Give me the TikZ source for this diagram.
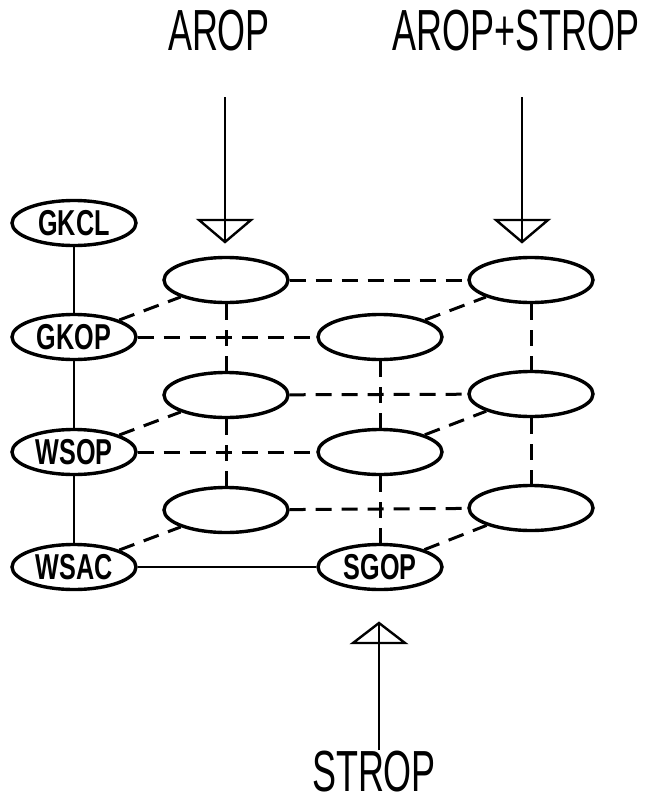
\documentclass[tikz,border=0pt]{standalone}
\usepackage{fontspec}
\setmainfont{Liberation Sans}
\newfontfamily\titlefont{Liberation Sans}[FakeStretch=0.62]
\newfontfamily\labfont{Liberation Sans Bold}[FakeStretch=0.7]
\usetikzlibrary{shapes.geometric}
\begin{document}
\begin{tikzpicture}[x=1pt,y=-1pt,
  ell/.style={ellipse, draw, line width=3.4pt, minimum width=124pt, minimum height=45pt, inner sep=0pt},
  lab/.style={font=\labfont\fontsize{36}{36}\selectfont},
  ttl/.style={font=\titlefont\fontsize{58}{58}\selectfont, inner sep=0pt},
  conn/.style={line width=2.4pt},
  dconn/.style={line width=3pt, dash pattern=on 16pt off 10pt},
  arr/.style={line width=2.4pt, line join=miter},
]
\useasboundingbox (0,0) rectangle (665,803);

% titles
\node[ttl] (tA) at (219,31) {AROP};
\node[ttl] (tAS) at (516,31) {AROP+STROP};
\node[ttl] (tS) at (374,772) {STROP};

% left column
\node[ell,lab] (GKCL) at (74,223) {GKCL};
\node[ell,lab] (GKOP) at (74,337) {GKOP};
\node[ell,lab] (WSOP) at (74,452) {WSOP};
\node[ell,lab] (WSAC) at (74,567) {WSAC};

% back column
\node[ell] (B1) at (226,280) {};
\node[ell] (B2) at (226,395) {};
\node[ell] (B3) at (226,510) {};

% middle column
\node[ell] (M1) at (380,337) {};
\node[ell] (M2) at (380,452) {};
\node[ell,lab] (SGOP) at (380,567) {SGOP};

% right column
\node[ell] (R1) at (531,280) {};
\node[ell] (R2) at (531,394) {};
\node[ell] (R3) at (531,508) {};

% solid connectors
\draw[conn] (GKCL) -- (GKOP) -- (WSOP) -- (WSAC);
\draw[conn] (WSAC) -- (SGOP);

% dashed horizontals
\draw[dconn] (GKOP) -- (M1);
\draw[dconn] (WSOP) -- (M2);
\draw[dconn] (B1) -- (R1);
\draw[dconn] (B2) -- (R2);
\draw[dconn] (B3) -- (R3);

% dashed diagonals
\draw[dconn] (GKOP) -- (B1);
\draw[dconn] (WSOP) -- (B2);
\draw[dconn] (WSAC) -- (B3);
\draw[dconn] (M1) -- (R1);
\draw[dconn] (M2) -- (R2);
\draw[dconn] (SGOP) -- (R3);

% dashed verticals
\draw[dconn] (B1) -- (B2);
\draw[dconn] (B2) -- (B3);
\draw[dconn] (M1) -- (M2);
\draw[dconn] (M2) -- (SGOP);
\draw[dconn] (R1) -- (R2);
\draw[dconn] (R2) -- (R3);

% input arrows
\coordinate (a1s) at (225,97);
\coordinate (a1t) at (225,242);
\coordinate (a2s) at (522,97);
\coordinate (a2t) at (522,242);
\coordinate (a3s) at (379,750);
\coordinate (a3t) at (379,623);

\draw[arr] (a1s) -- (a1t);
\draw[arr] (a1t) -- ++(-26,-22) -- ++(52,0) -- cycle;
\draw[arr] (a2s) -- (a2t);
\draw[arr] (a2t) -- ++(-26,-22) -- ++(52,0) -- cycle;
\draw[arr] (a3s) -- (a3t);
\draw[arr] (a3t) -- ++(-26,20) -- ++(52,0) -- cycle;
\end{tikzpicture}
\end{document}
